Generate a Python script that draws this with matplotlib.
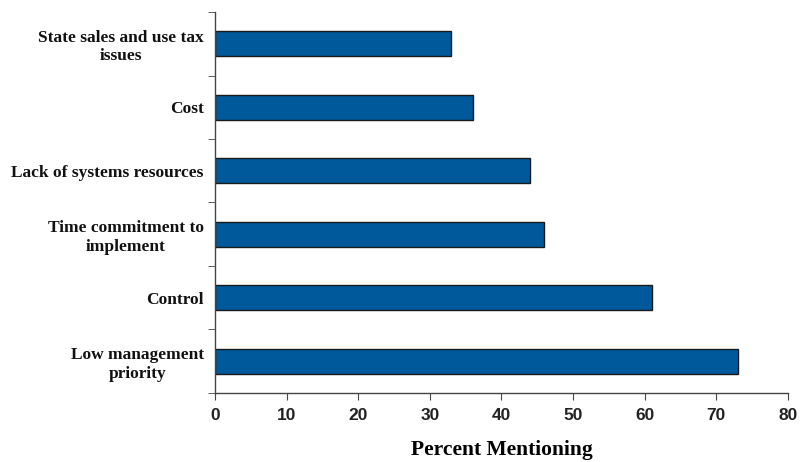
import matplotlib
matplotlib.use("Agg")
import matplotlib.pyplot as plt
import numpy as np

categories = ["Low management\npriority", "Control", "Time commitment to\nimplement",
              "Lack of systems resources", "Cost", "State sales and use tax\nissues"]
values = [73, 61, 46, 44, 36, 33]
xticks = [0, 10, 20, 30, 40, 50, 60, 70, 80]

fig = plt.figure(figsize=(8.03, 4.62), dpi=100)
ax = fig.add_axes([0.2677, 0.1494, 0.9813 - 0.2677, 0.974 - 0.1494])

y = np.arange(len(categories))
ax.barh(y, values, height=0.4, color="#00599A", edgecolor="#1a1a1a", linewidth=1.0)
ax.set_xlim(0, 80)
ax.set_ylim(-0.5, len(categories) - 0.5)
ax.set_xticks(xticks)
ax.set_xticklabels([str(t) for t in xticks], fontfamily="Liberation Sans", fontweight="bold",
                   fontsize=12.5, color="#222222")
ax.set_yticks(y)
ax.set_yticklabels(categories, fontfamily="Liberation Serif", fontweight="bold", fontsize=12.5,
                   ha="right", multialignment="center", color="#111111")
ax.tick_params(axis="y", which="major", length=0, pad=8)
ax.set_yticks(np.arange(-0.5, len(categories), 1.0), minor=True)
ax.tick_params(axis="y", which="minor", length=5, direction="out", color="#444444")
ax.tick_params(axis="x", length=5, direction="out", color="#444444", pad=6)
for s in ["top", "right"]:
    ax.spines[s].set_visible(False)
for s in ["left", "bottom"]:
    ax.spines[s].set_color("#444444")
    ax.spines[s].set_linewidth(1.0)
ax.set_xlabel("Percent Mentioning", fontfamily="Liberation Serif", fontweight="bold",
              fontsize=15.5, labelpad=12)
fig.savefig("out.png", dpi=100)
